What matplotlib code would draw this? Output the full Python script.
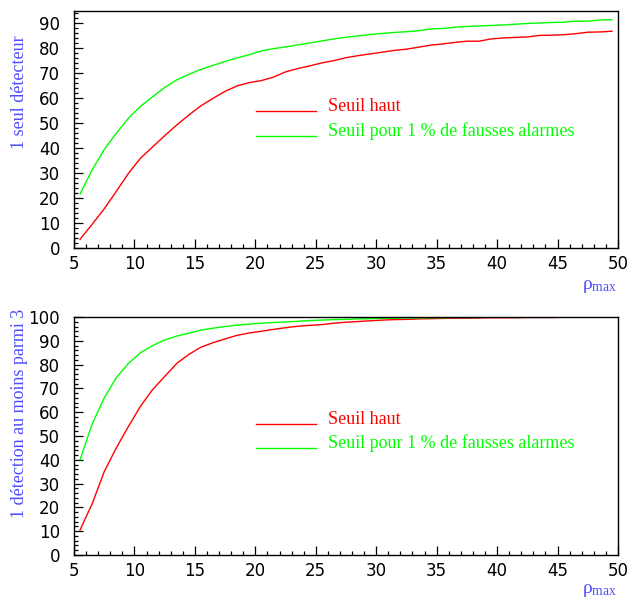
import matplotlib
matplotlib.use("Agg")
import matplotlib.pyplot as plt
from matplotlib.ticker import MultipleLocator

plt.rcParams['mathtext.fontset'] = 'custom'
plt.rcParams['mathtext.rm'] = 'Liberation Serif'
plt.rcParams['mathtext.it'] = 'Liberation Serif'

rho_max = [5.5 + i for i in range(45)]

top_seuil_haut = [3.5, 9.5, 15.7, 22.7, 29.9, 36.0, 40.5, 45.0, 49.3, 53.3,
                  57.0, 60.0, 62.8, 65.0, 66.3, 67.1, 68.5, 70.6, 71.9, 73.0,
                  74.2, 75.1, 76.3, 77.1, 77.8, 78.5, 79.2, 79.7, 80.5, 81.3,
                  81.8, 82.4, 82.9, 82.9, 83.8, 84.2, 84.4, 84.6, 85.2, 85.3,
                  85.5, 85.9, 86.5, 86.6, 86.9]
top_seuil_1pc = [21.7, 31.3, 39.5, 46.0, 52.0, 56.8, 60.6, 64.3, 67.4, 69.6,
                 71.6, 73.2, 74.8, 76.2, 77.5, 79.0, 79.9, 80.6, 81.4, 82.2,
                 83.0, 83.8, 84.5, 85.0, 85.6, 86.0, 86.4, 86.7, 87.1, 87.8,
                 88.0, 88.5, 88.8, 89.0, 89.2, 89.4, 89.7, 90.0, 90.2, 90.4,
                 90.5, 90.9, 90.9, 91.4, 91.5]

bot_seuil_haut = [10.5, 21.5, 35.0, 45.0, 54.0, 62.5, 69.5, 75.0, 80.5, 84.3,
                  87.3, 89.2, 90.8, 92.3, 93.3, 94.0, 94.8, 95.5, 96.1, 96.5,
                  96.8, 97.4, 97.8, 98.1, 98.4, 98.7, 98.9, 99.0, 99.2, 99.3,
                  99.4, 99.5, 99.5, 99.6, 99.7, 99.7, 99.7, 99.8, 99.8, 99.8,
                  99.9, 99.9, 99.9, 99.9, 99.9]
bot_seuil_1pc = [40.0, 55.0, 66.0, 74.5, 80.5, 85.0, 88.0, 90.3, 92.0, 93.2,
                 94.5, 95.3, 96.0, 96.6, 97.0, 97.4, 97.7, 97.9, 98.2, 98.5,
                 98.7, 98.9, 99.0, 99.2, 99.3, 99.4, 99.5, 99.6, 99.6, 99.7,
                 99.7, 99.8, 99.8, 99.8, 99.9, 99.9, 99.9, 99.9, 100.0, 100.0,
                 100.0, 100.0, 100.0, 100.0, 100.0]

legend_labels = ["Seuil haut", "Seuil pour 1 % de fausses alarmes"]
ylabels = ["1 seul détecteur", "1 détection au moins parmi 3"]
colors = ["#ff0000", "#00ff00"]
blue = "#4d4dff"

W, H = 629, 599
fig = plt.figure(figsize=(W / 100, H / 100), dpi=100)

def px_axes(left, top, right, bottom):
    return fig.add_axes([left / W, 1 - bottom / H, (right - left) / W, (bottom - top) / H])

ax1 = px_axes(74, 11, 618, 248)
ax2 = px_axes(74, 317, 618, 555)

panels = [
    (ax1, top_seuil_haut, top_seuil_1pc, 95.0, 0.578, 0.4726, ylabels[0], 35, 289),
    (ax2, bot_seuil_haut, bot_seuil_1pc, 100.0, 0.5504, 0.4496, ylabels[1], 309, 593),
]

for ax, red_vals, green_vals, ytop, ly1, ly2, ylab, ylab_top, rho_base in panels:
    ax.plot(rho_max, red_vals, color=colors[0], lw=1.0)
    ax.plot(rho_max, green_vals, color=colors[1], lw=1.0)
    ax.set_xlim(5, 50)
    ax.set_ylim(0, ytop)
    ax.xaxis.set_major_locator(MultipleLocator(5))
    ax.xaxis.set_minor_locator(MultipleLocator(1))
    ax.yaxis.set_major_locator(MultipleLocator(10))
    ax.yaxis.set_minor_locator(MultipleLocator(2))
    ax.tick_params(which='both', direction='in', top=False, right=False,
                   width=0.9, color='black')
    ax.tick_params(which='major', length=6.5, labelsize=12)
    ax.tick_params(which='minor', length=3)
    ax.tick_params(axis='y', which='major', pad=10)
    ax.tick_params(axis='x', which='major', pad=5)
    for lbl in ax.get_xticklabels() + ax.get_yticklabels():
        lbl.set_fontfamily('DejaVu Sans')
    for sp in ax.spines.values():
        sp.set_linewidth(1.0)
    # legend entries
    for (yy, lab, col) in zip([ly1, ly2], legend_labels, colors):
        ax.plot([0.3346, 0.4449], [yy, yy], color=col, lw=1.0,
                transform=ax.transAxes, clip_on=False)
        ax.text(0.4669, yy, lab, color=col, fontsize=13,
                family='Liberation Serif', ha='left', va='baseline',
                transform=ax.transAxes)
    fig.text(20 / W, 1 - ylab_top / H, ylab, rotation=90, ha='center', va='top',
             color=blue, fontsize=13, family='Liberation Serif')
    fig.text(582 / W, 1 - rho_base / H, r'$\rho_{\rm max}$', ha='left',
             va='baseline', color=blue, fontsize=14)

fig.savefig("out.png", dpi=100)
